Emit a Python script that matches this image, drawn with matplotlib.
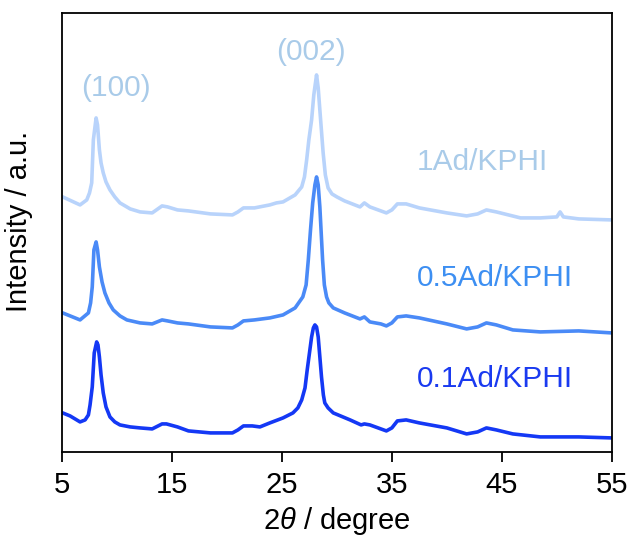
import matplotlib.pyplot as plt

plt.rcParams['font.family'] = ['Liberation Sans', 'DejaVu Sans']
plt.rcParams['mathtext.fontset'] = 'custom'
plt.rcParams['mathtext.rm'] = 'Liberation Sans'
plt.rcParams['mathtext.it'] = 'Liberation Sans:italic'

# 0.1Ad/KPHI
two_theta_01 = [5.06, 5.73, 6.64, 7.1, 7.4, 7.55, 7.75, 7.93, 8.15, 8.27, 8.4, 8.55, 8.75,
                9.0, 9.36, 9.8, 10.27, 11.2, 12.1, 13.2, 14.1, 14.5, 15.5, 16.5, 18.5,
                20.5, 21.0, 21.5, 22.3, 23.0, 23.9, 25.1, 26.0, 26.45, 26.8, 27.1, 27.3,
                27.7, 27.86, 28.0, 28.15, 28.3, 28.6, 28.77, 28.9, 29.2, 29.67, 31.2,
                32.2, 32.5, 33.0, 34.0, 34.5, 35.0, 35.5, 36.3, 37.5, 40.0, 41.8, 42.8,
                43.6, 44.5, 46.0, 48.5, 52.0, 55.0]
intensity_01 = [39, 36, 30, 32, 37, 47, 65, 99, 110, 107, 95, 77, 59,
                45, 35, 30, 27, 25, 24, 23, 28, 28, 25, 21, 19,
                19, 22, 26, 26, 25, 29, 34, 39, 44, 52, 64, 82,
                115, 124, 127, 125, 115, 75, 57, 49, 44, 39, 32,
                27, 28, 27, 23, 21, 24, 31, 32, 29, 24, 18, 20,
                24, 22, 18, 15, 15, 14]

# 0.5Ad/KPHI
two_theta_05 = [5.06, 6.64, 7.4, 7.6, 7.75, 7.9, 8.1, 8.23, 8.4, 8.64, 8.9, 9.27, 9.66,
                10.27, 10.9, 12.1, 13.2, 14.1, 14.6, 15.5, 16.5, 18.5, 20.5, 21.0, 21.5,
                22.5, 23.9, 25.1, 26.2, 26.9, 27.2, 27.4, 27.6, 27.8, 28.0, 28.15, 28.3,
                28.45, 28.7, 28.86, 29.06, 29.27, 29.67, 30.7, 32.1, 32.5, 33.0, 34.0,
                34.5, 35.0, 35.5, 36.3, 37.5, 40.0, 41.8, 42.8, 43.6, 44.5, 46.0, 48.5,
                52.0, 55.0]
intensity_05 = [139, 132, 139, 149, 165, 202, 210, 202, 185, 170, 159, 149, 142,
                136, 132, 129, 128, 132, 131, 129, 128, 125, 124, 127, 131,
                132, 134, 137, 144, 155, 167, 192, 222, 249, 267, 275, 267,
                245, 192, 167, 155, 149, 144, 139, 133, 135, 130, 128,
                126, 129, 135, 136, 134, 128, 123, 125, 129, 127, 122, 120,
                121, 119]

# 1Ad/KPHI
two_theta_1 = [5.06, 6.64, 7.25, 7.5, 7.7, 7.85, 8.1, 8.23, 8.4, 8.55, 8.75, 9.0, 9.36,
               9.8, 10.27, 11.2, 12.1, 13.2, 14.1, 14.6, 15.5, 16.5, 18.5, 20.5, 21.0,
               21.5, 22.5, 23.9, 24.5, 25.1, 26.2, 26.8, 27.05, 27.25, 27.45, 27.7, 27.9,
               28.15, 28.3, 28.45, 28.75, 28.95, 29.2, 29.55, 30.0, 30.7, 32.1, 32.5,
               33.0, 34.5, 35.0, 35.5, 36.3, 37.5, 40.0, 41.8, 42.8, 43.6, 44.5, 46.7,
               48.5, 50.0, 50.3, 50.6, 52.0, 55.0]
intensity_1 = [255, 247, 252, 259, 269, 312, 334, 327, 302, 289, 279, 270, 262,
               255, 249, 243, 240, 239, 246, 245, 242, 241, 238, 237, 240,
               244, 244, 247, 249, 250, 257, 265, 275, 292, 312, 332, 357,
               377, 364, 342, 299, 277, 264, 258, 255, 251, 245, 249,
               245, 239, 242, 248, 248, 244, 239, 236, 238, 242, 240, 234,
               234, 235, 240, 235, 233, 232]

sample_names = ['0.1Ad/KPHI', '0.5Ad/KPHI', '1Ad/KPHI']
line_colors = ['#1438f5', '#4a8af7', '#b8d3fb']
label_colors = ['#1a3af0', '#3d8ff2', '#a9cbe9']
label_y = [73, 174, 290]

fig = plt.figure(figsize=(6.29, 5.38), dpi=100)
ax = fig.add_axes([0.0986, 0.16, 0.874, 0.816])

series = [(two_theta_01, intensity_01), (two_theta_05, intensity_05), (two_theta_1, intensity_1)]
for (x, y), c in zip(series, line_colors):
    ax.plot(x, y, color=c, linewidth=2.6, solid_joinstyle='round', solid_capstyle='round')

for name, c, yy in zip(sample_names, label_colors, label_y):
    ax.text(37.3, yy, name, color=c, fontsize=21.5, ha='left', va='center')

ax.text(9.9, 364, '(100)', color='#a9cbe9', fontsize=21.5, ha='center', va='center')
ax.text(27.6, 400, '(002)', color='#a9cbe9', fontsize=21.5, ha='center', va='center')

ax.set_xlim(5, 55)
ax.set_ylim(0, 439)
ax.set_xticks([5, 15, 25, 35, 45, 55])
ax.set_yticks([])
ax.tick_params(axis='x', direction='out', length=7, width=1.3, labelsize=21, pad=7)
for s in ax.spines.values():
    s.set_linewidth(1.3)
ax.set_xlabel(r'2$\it{\theta}$ / degree', fontsize=21)
ax.set_ylabel('Intensity / a.u.', fontsize=21)
ax.xaxis.set_label_coords(0.5, -0.12)
ax.yaxis.set_label_coords(-0.052, 0.526)

fig.savefig('out.png', dpi=100)
